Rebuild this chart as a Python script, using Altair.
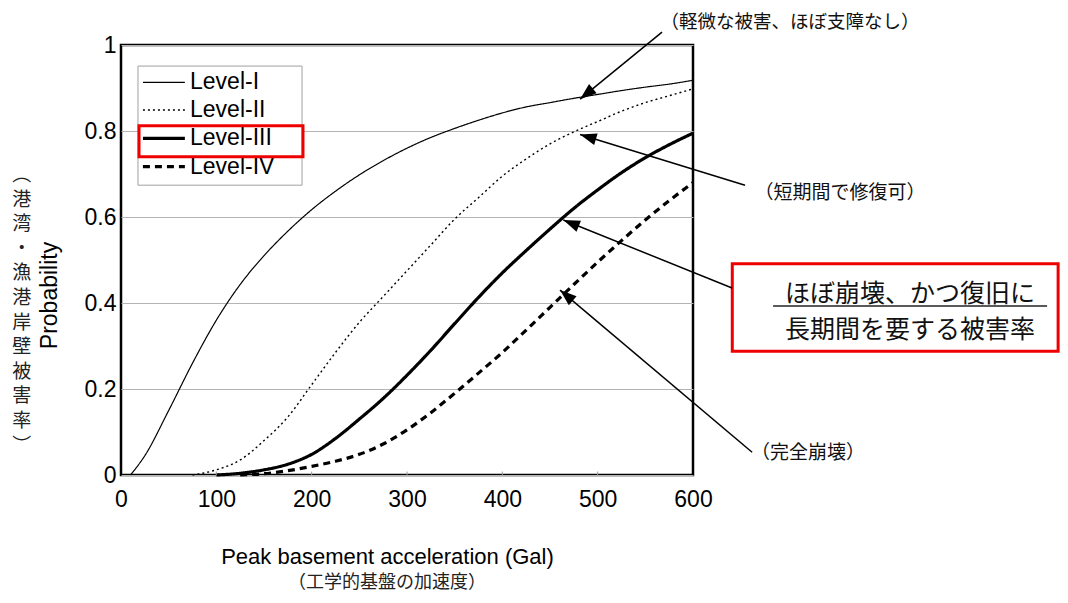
import math
import altair as alt
import pandas as pd

# ---------------- data ----------------
level_names = ["Level-I", "Level-II", "Level-III", "Level-IV"]

lv1_x = [10, 25, 50, 75, 100, 125, 150, 175, 200, 225, 250, 275, 300, 325, 350,
         375, 400, 425, 450, 475, 500, 525, 550, 575, 600]
lv1_y = [0.0, 0.045, 0.15, 0.26, 0.36, 0.443, 0.51, 0.567, 0.617, 0.66, 0.698, 0.731,
         0.76, 0.785, 0.806, 0.825, 0.842, 0.856, 0.866, 0.876, 0.885, 0.894, 0.902,
         0.909, 0.918]

lv2_x = [75, 100, 125, 150, 175, 200, 225, 250, 275, 300, 325, 350, 375, 400, 425,
         450, 475, 500, 525, 550, 575, 600]
lv2_y = [0.0, 0.012, 0.035, 0.08, 0.135, 0.21, 0.285, 0.355, 0.415, 0.475, 0.535,
         0.595, 0.645, 0.695, 0.735, 0.77, 0.798, 0.822, 0.846, 0.866, 0.882, 0.898]

lv3_x = [100, 125, 150, 175, 200, 225, 250, 275, 300, 325, 350, 375, 400, 425, 450,
         475, 500, 525, 550, 575, 600]
lv3_y = [0.0, 0.004, 0.012, 0.025, 0.048, 0.085, 0.13, 0.178, 0.232, 0.29, 0.352,
         0.413, 0.47, 0.522, 0.572, 0.62, 0.663, 0.703, 0.738, 0.768, 0.795]

lv4_x = [125, 150, 175, 200, 225, 250, 275, 300, 325, 350, 375, 400, 425, 450, 475,
         500, 525, 550, 575, 600]
lv4_y = [0.0, 0.003, 0.01, 0.02, 0.032, 0.048, 0.072, 0.105, 0.145, 0.19, 0.237,
         0.285, 0.337, 0.39, 0.443, 0.495, 0.545, 0.593, 0.638, 0.68]

x_ticks = [0, 100, 200, 300, 400, 500, 600]
y_ticks = [0, 0.2, 0.4, 0.6, 0.8, 1.0]

x_title = "Peak basement acceleration (Gal)"
x_title_ja = "（工学的基盤の加速度）"
y_title = "Probability"
y_title_ja = "︵港湾・漁港岸壁被害率︶"

# legend entries (positions in data units)
legend_y = [0.913, 0.849, 0.783, 0.717]

# annotations: text, centre position (data units), font size
ann_text = ["（軽微な被害、ほぼ支障なし）", "（短期間で修復可）", "（完全崩壊）",
            "ほぼ崩壊、かつ復旧に", "長期間を要する被害率"]
ann_x = [701.8, 754.2, 720.7, 827.7, 827.7]
ann_y = [1.0535, 0.656, 0.051, 0.422, 0.338]
ann_size = [18.5, 19, 19, 25, 25]

# arrows: start -> tip (data units)
arr_x0 = [567.5, 654.6, 641.0, 662.0]
arr_y0 = [1.030, 0.674, 0.435, 0.053]
arr_x1 = [481.5, 481.5, 464.0, 460.5]
arr_y1 = [0.874, 0.792, 0.593, 0.430]

# ---------------- layout ----------------
W, H = 572, 430
X_MAX = 600.0

line_styles = {
    "Level-I": {"strokeWidth": 1.2, "strokeDash": [1, 0]},
    "Level-II": {"strokeWidth": 1.4, "strokeDash": [2, 3]},
    "Level-III": {"strokeWidth": 3.2, "strokeDash": [1, 0]},
    "Level-IV": {"strokeWidth": 3.2, "strokeDash": [7, 5]},
}

rows = []
for name, xs, ys in zip(level_names, [lv1_x, lv2_x, lv3_x, lv4_x],
                        [lv1_y, lv2_y, lv3_y, lv4_y]):
    for xv, yv in zip(xs, ys):
        rows.append({"level": name, "x": xv, "y": yv})
curves = pd.DataFrame(rows)

x_scale = alt.Scale(domain=[0, 600], nice=False, zero=False)
y_scale = alt.Scale(domain=[0, 1], nice=False, zero=False)

LATIN = "Liberation Sans"
CJK = "Noto Sans CJK JP"


def X(f):
    return alt.X(f, scale=x_scale)


def Y(f):
    return alt.Y(f, scale=y_scale)


x_axis = alt.Axis(values=x_ticks, grid=False, ticks=False, domain=False,
                  labelFontSize=23, labelPadding=13, labelFont=LATIN, labelFlush=False,
                  labelColor="black", title=x_title, titleFont=LATIN,
                  titleFontSize=22, titleFontWeight="normal", titleColor="black",
                  titleX=266, titleY=81, titleAlign="center", titleBaseline="middle")
y_axis = alt.Axis(values=y_ticks, format="~g", grid=True, gridColor="#b4b4b4",
                  gridWidth=1, ticks=False, domain=False, labelFontSize=23,
                  labelPadding=5, labelFont=LATIN, labelColor="black", labelFlush=False,
                  title=y_title, titleFont=LATIN, titleFontSize=23,
                  titleFontWeight="normal", titleColor="black",
                  titleX=-72, titleY=250, titleAngle=270, titleAlign="center",
                  titleBaseline="middle")

curve_layers = []
for i, name in enumerate(level_names):
    st = line_styles[name]
    enc = {}
    if i == 0:
        enc["x"] = alt.X("x:Q", scale=x_scale, axis=x_axis)
        enc["y"] = alt.Y("y:Q", scale=y_scale, axis=y_axis)
    else:
        enc["x"] = X("x:Q")
        enc["y"] = Y("y:Q")
    curve_layers.append(
        alt.Chart(curves).transform_filter(alt.datum.level == name)
        .mark_line(interpolate="monotone", color="black",
                   strokeWidth=st["strokeWidth"], strokeDash=st["strokeDash"])
        .encode(**enc)
    )

# small inner ticks on x axis
tick_df = pd.DataFrame({"x": x_ticks[1:-1], "y": [0.0] * 5, "y2": [0.008] * 5})
inner_ticks = alt.Chart(tick_df).mark_rule(color="#999999", strokeWidth=1).encode(
    x=X("x:Q"), y=Y("y:Q"), y2="y2:Q")

# legend box
box_df = pd.DataFrame({"x": [17.8], "x2": [189.9], "y": [0.951], "y2": [0.674]})
legend_box = alt.Chart(box_df).mark_rect(fill="white", stroke="#a0a0a0",
                                         strokeWidth=1).encode(
    x=X("x:Q"), x2="x2:Q", y=Y("y:Q"), y2="y2:Q")

leg_df = pd.DataFrame({"level": level_names, "x": [23.0] * 4, "x2": [67.0] * 4,
                       "y": legend_y, "tx": [72.4] * 4})
legend_lines = []
for name in level_names:
    st = line_styles[name]
    legend_lines.append(
        alt.Chart(leg_df).transform_filter(alt.datum.level == name)
        .mark_rule(color="black", strokeWidth=st["strokeWidth"],
                   strokeDash=st["strokeDash"])
        .encode(x=X("x:Q"), x2="x2:Q", y=Y("y:Q"))
    )
legend_text = alt.Chart(leg_df).mark_text(align="left", baseline="middle", font=LATIN,
                                          fontSize=23, color="black").encode(
    x=X("tx:Q"), y=Y("y:Q"), text="level:N")

# red highlight boxes
red_df = pd.DataFrame({"x": [18.9, 641.2], "x2": [190.9, 983.0],
                       "y": [0.812, 0.491], "y2": [0.740, 0.288]})
red_boxes = alt.Chart(red_df).mark_rect(fillOpacity=0, stroke="#ee0000",
                                        strokeWidth=3).encode(
    x=X("x:Q"), x2="x2:Q", y=Y("y:Q"), y2="y2:Q")

# underline of first line in red box
ul_df = pd.DataFrame({"x": [684.0], "x2": [971.4], "y": [0.393]})
underline = alt.Chart(ul_df).mark_rule(color="#222222", strokeWidth=1.3).encode(
    x=X("x:Q"), x2="x2:Q", y=Y("y:Q"))

# annotation text
ann_df = pd.DataFrame({"t": ann_text, "x": ann_x, "y": ann_y, "s": ann_size})
ann = alt.Chart(ann_df).mark_text(align="center", baseline="middle", font=CJK,
                                  color="#111111").encode(
    x=X("x:Q"), y=Y("y:Q"), text="t:N",
    size=alt.Size("s:Q", scale=None, legend=None))

# arrows
arr_df = pd.DataFrame({"x": arr_x0, "y": arr_y0, "x2": arr_x1, "y2": arr_y1})
angles = []
for x0, y0, x1, y1 in zip(arr_x0, arr_y0, arr_x1, arr_y1):
    dx = (x0 - x1) * W / X_MAX
    dy = -(y0 - y1) * H
    angles.append(math.degrees(math.atan2(-dx, dy)) % 360)
arr_df["ang"] = angles
arrow_lines = alt.Chart(arr_df).mark_rule(color="black", strokeWidth=1.5).encode(
    x=X("x:Q"), x2="x2:Q", y=Y("y:Q"), y2="y2:Q")
arrow_heads = alt.Chart(arr_df).mark_point(shape="M0,0L0.36,1L-0.36,1Z", filled=True,
                                           color="black", opacity=1,
                                           size=1100).encode(
    x=X("x2:Q"), y=Y("y2:Q"), angle=alt.Angle("ang:Q", scale=None))

# x subtitle (Japanese) and vertical y subtitle
sub_df = pd.DataFrame({"t": [x_title_ja], "x": [279.0], "y": [-0.252]})
x_sub = alt.Chart(sub_df).mark_text(align="center", baseline="middle", font=CJK,
                                    fontSize=18, color="#222222").encode(
    x=X("x:Q"), y=Y("y:Q"), text="t:N")

vsub_df = pd.DataFrame({"t": ["\n".join(list(y_title_ja))], "x": [-104.0],
                        "y": [0.7186]})
y_sub = alt.Chart(vsub_df).mark_text(align="center", baseline="top", font=CJK,
                                     fontSize=19, lineBreak="\n", lineHeight=24.6,
                                     color="#222222").encode(
    x=X("x:Q"), y=Y("y:Q"), text="t:N")

chart = alt.layer(
    *curve_layers, inner_ticks, legend_box, *legend_lines, legend_text, red_boxes,
    underline, ann, arrow_lines, arrow_heads, x_sub, y_sub
).properties(
    width=W, height=H,
    padding={"left": 113, "top": 37, "right": 367, "bottom": 120},
    autosize=alt.AutoSizeParams(type="none"),
    background="white",
).configure_view(stroke="black", strokeWidth=2.5)

chart.save("out.html", embed_options={"renderer": "svg", "actions": False})
